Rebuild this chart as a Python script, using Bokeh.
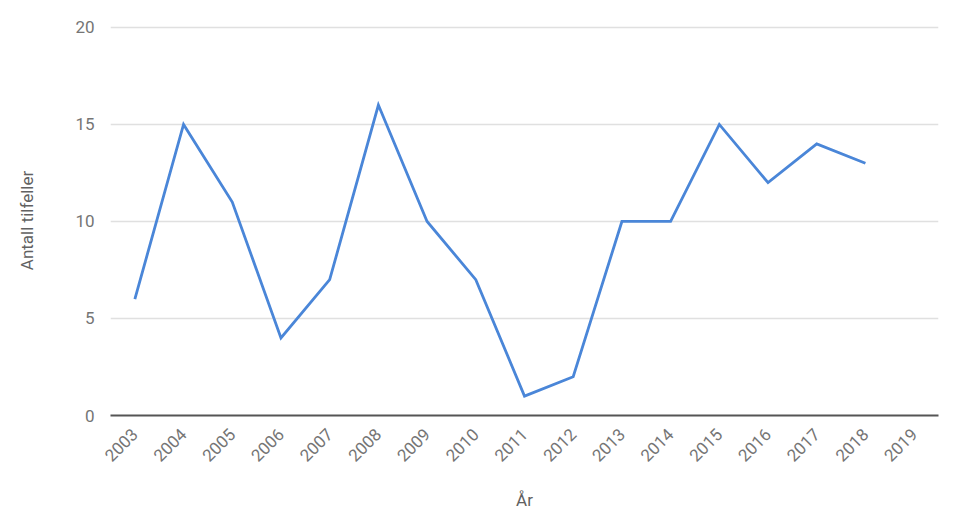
import math
from bokeh.plotting import figure
from bokeh.models import FactorRange, Range1d, FixedTicker, ColumnDataSource
from bokeh.embed import file_html
from bokeh.resources import INLINE

years = [str(y) for y in range(2003, 2020)]
line_years = years[:16]
cases = [6, 15, 11, 4, 7, 16, 10, 7, 1, 2, 10, 10, 15, 12, 14, 13]
y_ticks = [0, 5, 10, 15, 20]

src = ColumnDataSource(dict(x=line_years, y=cases))

p = figure(width=952, height=522, x_range=FactorRange(*years, range_padding=0),
           y_range=Range1d(0, 20.1), output_backend="svg", toolbar_location=None,
           min_border_left=110, min_border_right=14, min_border_top=25, min_border_bottom=107)
p.outline_line_color = None
p.background_fill_color = "white"
p.border_fill_color = "white"

p.line("x", "y", source=src, line_color="#4a86d8", line_width=2.8, line_join="miter")

font = "Roboto"
# y axis
ya = p.yaxis[0]
ya.ticker = FixedTicker(ticks=y_ticks)
ya.axis_line_color = None
ya.major_tick_line_color = None
ya.minor_tick_line_color = None
ya.major_label_text_font = font
ya.major_label_text_font_size = "17px"
ya.major_label_text_color = "#757575"
ya.major_label_standoff = 10
ya.axis_label = "Antall tilfeller"
ya.axis_label_text_font = font
ya.axis_label_text_font_size = "17px"
ya.axis_label_text_font_style = "normal"
ya.axis_label_text_color = "#616161"
ya.axis_label_standoff = 35

# x axis
xa = p.xaxis[0]
xa.axis_line_color = "#555555"
xa.axis_line_width = 2
xa.major_tick_line_color = None
xa.minor_tick_line_color = None
xa.major_label_orientation = math.pi / 4
xa.major_label_text_font = font
xa.major_label_text_font_size = "17px"
xa.major_label_text_color = "#757575"
xa.major_label_standoff = 10
xa.axis_label = "År"
xa.axis_label_text_font = font
xa.axis_label_text_font_size = "17px"
xa.axis_label_text_font_style = "normal"
xa.axis_label_text_color = "#616161"
xa.axis_label_standoff = 20

p.xgrid.grid_line_color = None
p.ygrid.grid_line_color = "#e0e0e0"
p.ygrid.grid_line_width = 1.5

open("out.html", "w").write(file_html(p, INLINE))
